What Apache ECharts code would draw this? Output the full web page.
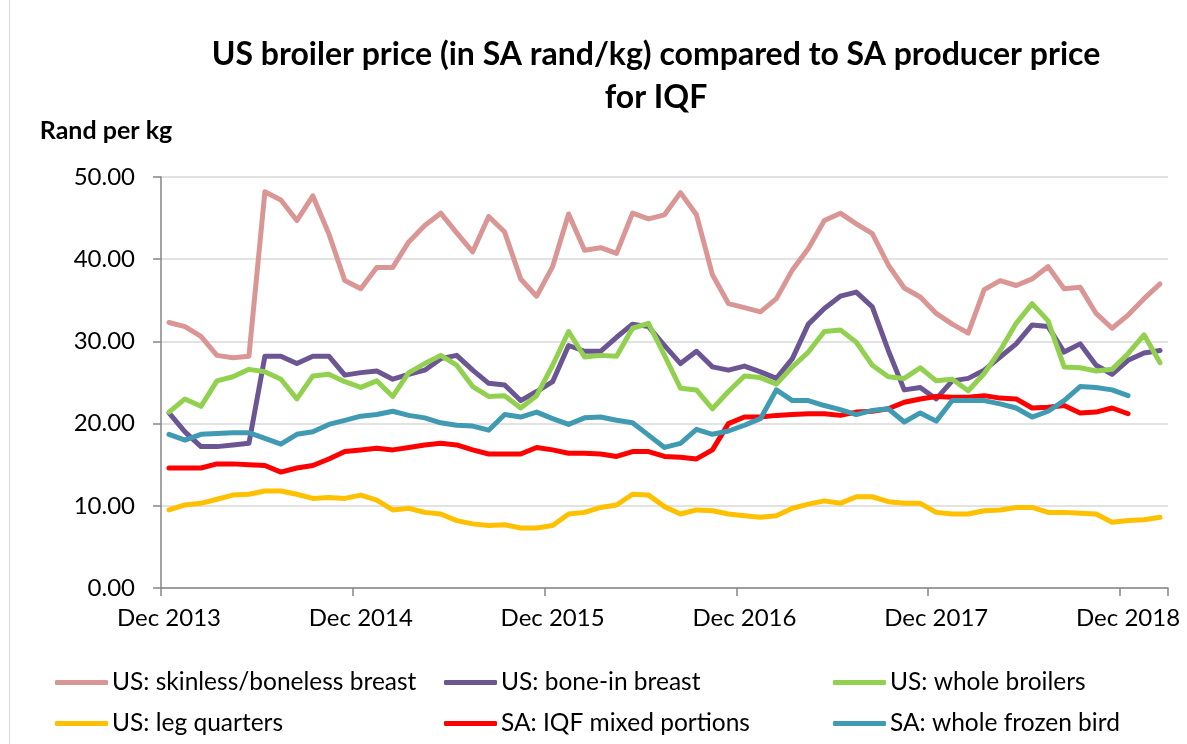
<!DOCTYPE html>
<html>
<head>
<meta charset="utf-8">
<script src="https://cdn.jsdelivr.net/npm/echarts@6/dist/echarts.min.js"></script>
<style>
html, body { margin: 0; padding: 0; background: #fff; }
#chartArea { width: 1187px; height: 744px; }
</style>
</head>
<body>
<div id="chartArea"></div>
<script>
// months, Dec 2013 - Feb 2019
var months = [
    'Dec 2013', 'Jan 2014', 'Feb 2014', 'Mar 2014', 'Apr 2014', 'May 2014', 'Jun 2014', 'Jul 2014', 'Aug 2014', 'Sep 2014', 'Oct 2014', 'Nov 2014',
    'Dec 2014', 'Jan 2015', 'Feb 2015', 'Mar 2015', 'Apr 2015', 'May 2015', 'Jun 2015', 'Jul 2015', 'Aug 2015', 'Sep 2015', 'Oct 2015', 'Nov 2015',
    'Dec 2015', 'Jan 2016', 'Feb 2016', 'Mar 2016', 'Apr 2016', 'May 2016', 'Jun 2016', 'Jul 2016', 'Aug 2016', 'Sep 2016', 'Oct 2016', 'Nov 2016',
    'Dec 2016', 'Jan 2017', 'Feb 2017', 'Mar 2017', 'Apr 2017', 'May 2017', 'Jun 2017', 'Jul 2017', 'Aug 2017', 'Sep 2017', 'Oct 2017', 'Nov 2017',
    'Dec 2017', 'Jan 2018', 'Feb 2018', 'Mar 2018', 'Apr 2018', 'May 2018', 'Jun 2018', 'Jul 2018', 'Aug 2018', 'Sep 2018', 'Oct 2018', 'Nov 2018',
    'Dec 2018', 'Jan 2019', 'Feb 2019'
];

var usSkinlessBreast = [
    32.3, 31.8, 30.6, 28.3, 28.0, 28.2, 48.2, 47.2, 44.7, 47.7,
    43.1, 37.4, 36.4, 39.0, 39.0, 42.1, 44.1, 45.6, 43.2, 40.9,
    45.2, 43.3, 37.6, 35.5, 39.1, 45.5, 41.1, 41.4, 40.7, 45.6,
    44.9, 45.4, 48.1, 45.4, 38.1, 34.6, 34.1, 33.6, 35.2, 38.7,
    41.3, 44.7, 45.6, 44.3, 43.1, 39.3, 36.5, 35.4, 33.4, 32.1,
    31.0, 36.3, 37.4, 36.8, 37.6, 39.1, 36.4, 36.6, 33.4, 31.6,
    33.2, 35.2, 37.0
];
var usBoneInBreast = [
    21.3, 19.0, 17.2, 17.2, 17.4, 17.6, 28.2, 28.2, 27.3, 28.2,
    28.2, 25.9, 26.2, 26.4, 25.4, 26.0, 26.5, 27.9, 28.3, 26.5,
    24.9, 24.7, 22.8, 23.9, 25.1, 29.5, 28.8, 28.8, 30.5, 32.1,
    31.8, 29.5, 27.3, 28.8, 26.9, 26.5, 27.0, 26.3, 25.5, 27.9,
    32.1, 34.0, 35.5, 36.0, 34.2, 28.9, 24.1, 24.4, 23.0, 25.2,
    25.5, 26.5, 28.1, 29.7, 32.0, 31.8, 28.7, 29.7, 27.1, 26.0,
    27.7, 28.6, 28.9
];
var usWholeBroilers = [
    21.4, 23.0, 22.1, 25.2, 25.7, 26.6, 26.3, 25.4, 23.0, 25.8,
    26.0, 25.1, 24.4, 25.2, 23.3, 26.2, 27.3, 28.3, 27.1, 24.5,
    23.3, 23.4, 21.9, 23.4, 27.1, 31.2, 28.1, 28.3, 28.2, 31.6,
    32.2, 28.3, 24.3, 24.1, 21.8, 23.9, 25.8, 25.6, 24.8, 26.9,
    28.7, 31.2, 31.4, 29.9, 27.1, 25.7, 25.5, 26.8, 25.2, 25.4,
    24.0, 26.1, 28.9, 32.2, 34.6, 32.5, 26.9, 26.8, 26.4, 26.6,
    28.5, 30.8, 27.4
];
var usLegQuarters = [
    9.5, 10.1, 10.3, 10.8, 11.3, 11.4, 11.8, 11.8, 11.4, 10.9,
    11.0, 10.9, 11.3, 10.7, 9.5, 9.7, 9.2, 9.0, 8.2, 7.8,
    7.6, 7.7, 7.3, 7.3, 7.6, 9.0, 9.2, 9.8, 10.1, 11.4,
    11.3, 9.9, 9.0, 9.5, 9.4, 9.0, 8.8, 8.6, 8.8, 9.7,
    10.2, 10.6, 10.3, 11.1, 11.1, 10.5, 10.3, 10.3, 9.2, 9.0,
    9.0, 9.4, 9.5, 9.8, 9.8, 9.2, 9.2, 9.1, 9.0, 8.0,
    8.2, 8.3, 8.6
];
var saIqfPortions = [
    14.6, 14.6, 14.6, 15.1, 15.1, 15.0, 14.9, 14.1, 14.6, 14.9,
    15.7, 16.6, 16.8, 17.0, 16.8, 17.1, 17.4, 17.6, 17.4, 16.8,
    16.3, 16.3, 16.3, 17.1, 16.8, 16.4, 16.4, 16.3, 16.0, 16.6,
    16.6, 16.0, 15.9, 15.7, 16.8, 20.0, 20.8, 20.8, 21.0, 21.1,
    21.2, 21.2, 21.0, 21.4, 21.5, 21.8, 22.6, 23.0, 23.3, 23.2,
    23.2, 23.4, 23.1, 23.0, 21.9, 22.0, 22.2, 21.3, 21.4, 21.9,
    21.2, null, null
];
var saWholeFrozen = [
    18.7, 18.0, 18.7, 18.8, 18.9, 18.9, 18.2, 17.5, 18.7, 19.0,
    19.9, 20.4, 20.9, 21.1, 21.5, 21.0, 20.7, 20.1, 19.8, 19.7,
    19.2, 21.1, 20.8, 21.4, 20.6, 19.9, 20.7, 20.8, 20.4, 20.1,
    18.6, 17.1, 17.6, 19.3, 18.7, 19.1, 19.8, 20.6, 24.1, 22.8,
    22.8, 22.2, 21.7, 21.1, 21.6, 21.8, 20.2, 21.3, 20.3, 22.8,
    22.8, 22.8, 22.4, 21.9, 20.8, 21.5, 22.8, 24.5, 24.4, 24.1,
    23.4, null, null
];

var seriesNames = ['US: skinless/boneless breast', 'US: bone-in breast', 'US: whole broilers',
    'US: leg quarters', 'SA: IQF mixed portions', 'SA: whole frozen bird'];
var seriesColors = ['#D99694', '#6B5592', '#92D050', '#FFC000', '#FF0000', '#409AB2'];
var seriesData = [usSkinlessBreast, usBoneInBreast, usWholeBroilers, usLegQuarters, saIqfPortions, saWholeFrozen];

var fontName = 'Lato';

// 图例逐项摆放, 三列两行
function makeLegend(idx, left, top) {
    return {
        data: [seriesNames[idx]],
        left: left,
        top: top,
        padding: 0,
        icon: 'roundRect',
        itemWidth: 53,
        itemHeight: 5,
        itemGap: 0,
        selectedMode: false,
        textStyle: { fontFamily: fontName, fontSize: 24.5, color: '#000', padding: [0, 0, 0, -1] }
    };
}

var myChart = echarts.init(document.getElementById('chartArea'));
myChart.setOption({
    backgroundColor: '#fff',
    animation: false,
    title: {
        text: 'US broiler price (in SA rand/kg) compared to SA producer price\nfor IQF',
        left: 656,
        top: 33,
        textAlign: 'center',
        padding: 0,
        textStyle: {
            fontFamily: fontName,
            fontSize: 32,
            fontWeight: 'bold',
            color: '#000',
            lineHeight: 43
        }
    },
    graphic: [{
        type: 'line',
        shape: { x1: 9.5, y1: 0, x2: 9.5, y2: 744 },
        style: { stroke: '#d9d9d9', lineWidth: 1 }
    }],
    legend: [
        makeLegend(0, 55, 670), makeLegend(1, 444, 670), makeLegend(2, 833, 670),
        makeLegend(3, 55, 711), makeLegend(4, 444, 711), makeLegend(5, 833, 711)
    ],
    grid: { left: 161, right: 19, top: 177, bottom: 156 },
    xAxis: {
        type: 'category',
        data: months,
        boundaryGap: true,
        axisLine: { lineStyle: { color: '#868686', width: 1.5 } },
        axisTick: { show: true, interval: 11, length: 8, lineStyle: { color: '#868686', width: 1.5 } },
        axisLabel: { interval: 11, margin: 18, fontFamily: fontName, fontSize: 24, color: '#000' },
        splitLine: { show: false }
    },
    yAxis: {
        type: 'value',
        min: 0,
        max: 50,
        interval: 10,
        name: 'Rand per kg',
        nameLocation: 'end',
        nameGap: 34,
        nameTextStyle: {
            fontFamily: fontName, fontSize: 25, fontWeight: 'bold', color: '#000',
            padding: [0, 110, 0, 0]
        },
        axisLine: { show: true, lineStyle: { color: '#868686', width: 1.5 } },
        axisTick: { show: true, length: 8, lineStyle: { color: '#868686', width: 1.5 } },
        axisLabel: {
            margin: 26, fontFamily: fontName, fontSize: 24, color: '#000',
            formatter: function (v) { return v.toFixed(2); }
        },
        splitLine: { lineStyle: { color: '#d9d9d9', width: 1.5 } }
    },
    series: seriesNames.map(function (name, i) {
        return {
            name: name,
            type: 'line',
            data: seriesData[i],
            symbol: 'none',
            color: seriesColors[i],
            lineStyle: { width: 5, color: seriesColors[i], cap: 'round', join: 'round' }
        };
    })
});
</script>
</body>
</html>
